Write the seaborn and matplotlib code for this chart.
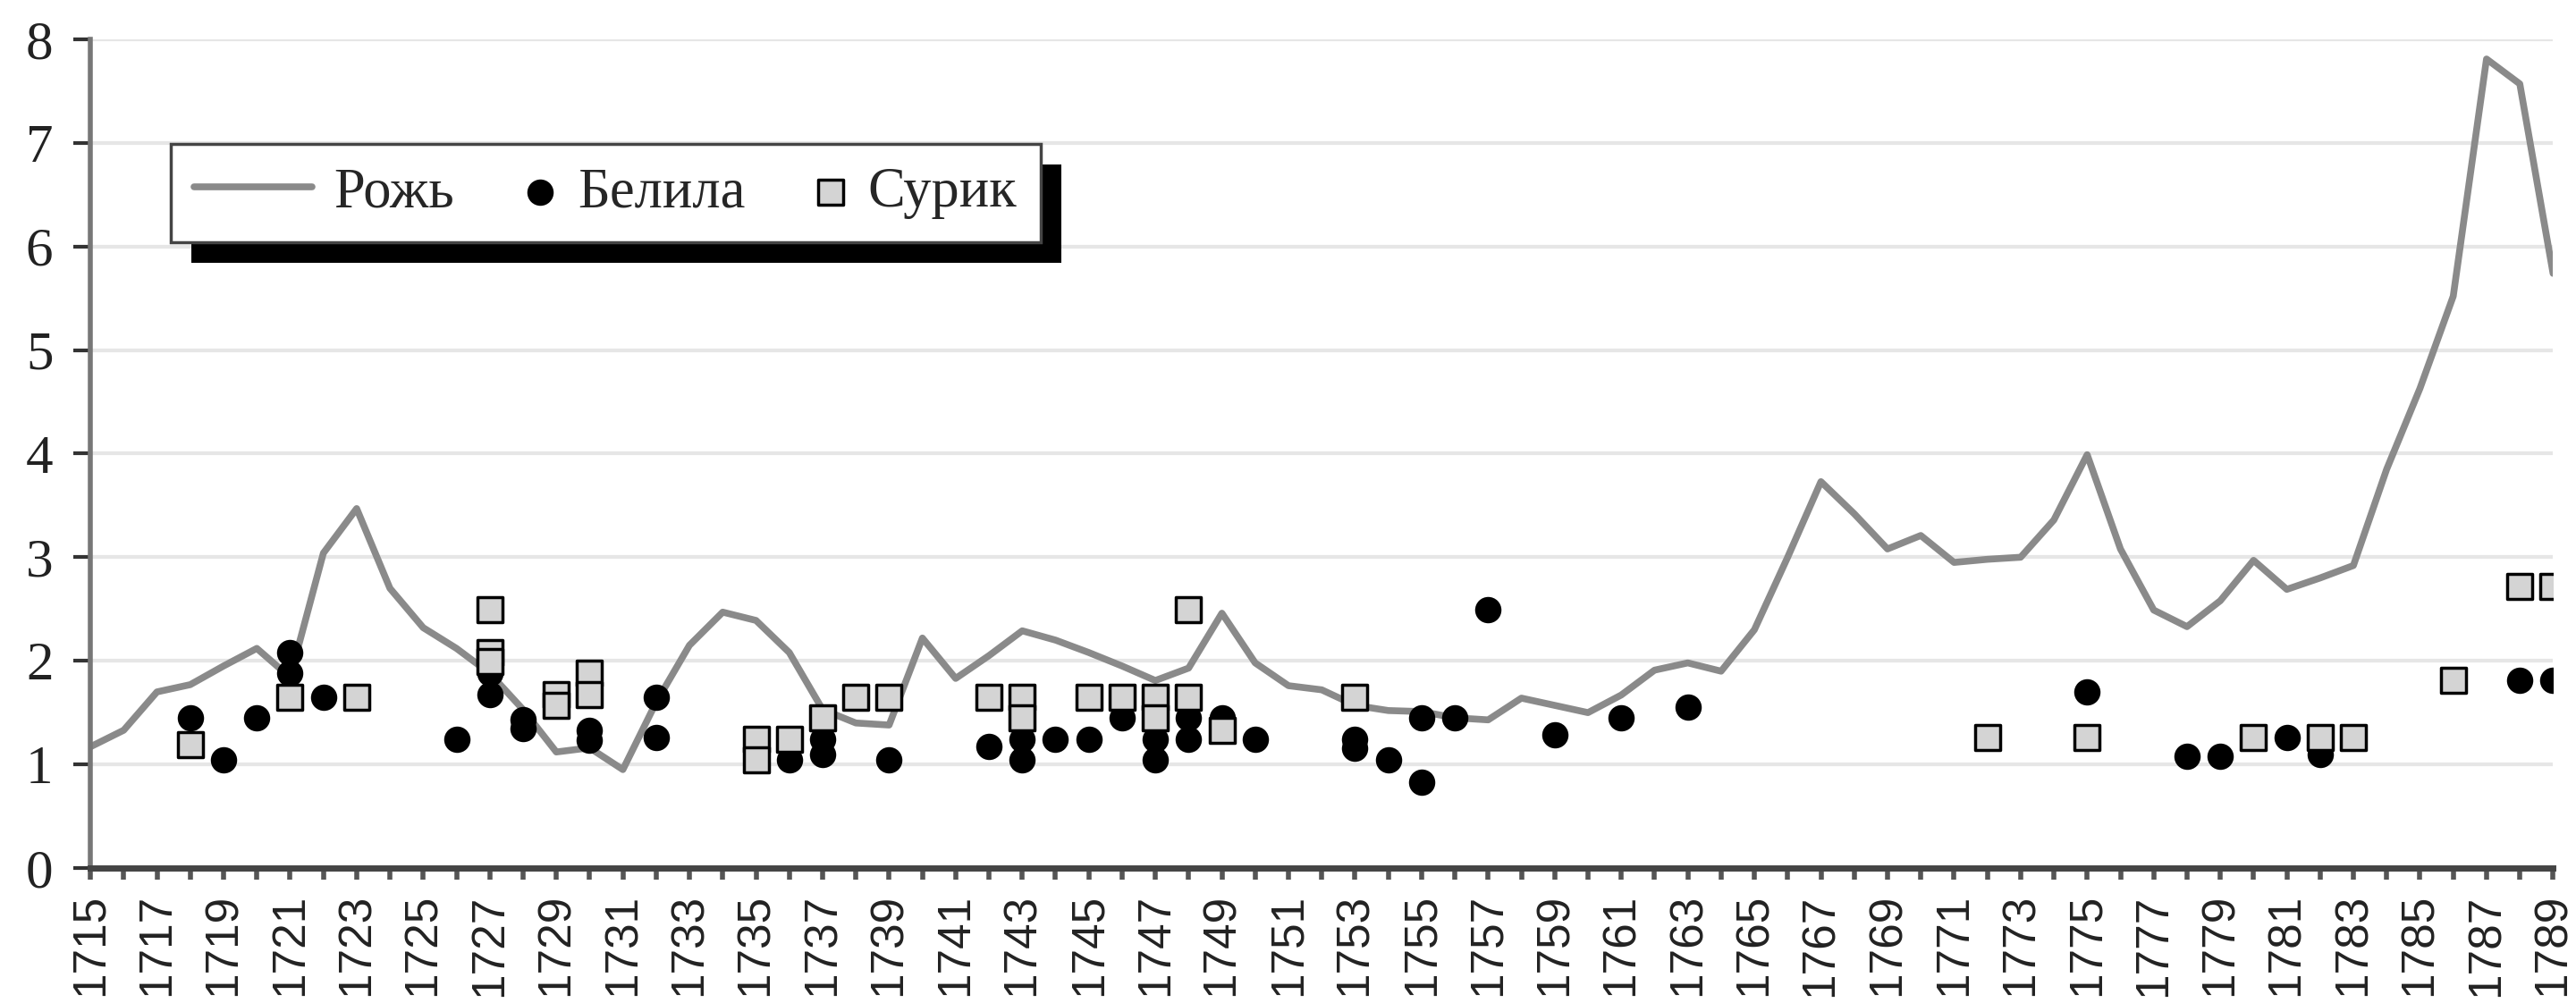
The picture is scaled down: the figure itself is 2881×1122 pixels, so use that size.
import matplotlib
matplotlib.use("Agg")
import matplotlib.pyplot as plt
import matplotlib.patheffects as pe
from matplotlib.legend_handler import HandlerLine2D
import seaborn as sns
import pandas as pd

# Цены: рожь (линия), белила и сурик (точки)
years = list(range(1715, 1790))
rye = [1.17, 1.33, 1.70, 1.77, 1.95, 2.12, 1.84, 3.04, 3.47, 2.70,
       2.32, 2.12, 1.88, 1.53, 1.12, 1.16, 0.95, 1.60, 2.15, 2.47,
       2.39, 2.08, 1.53, 1.40, 1.38, 2.22, 1.83, 2.05, 2.29, 2.20,
       2.08, 1.95, 1.81, 1.93, 2.46, 1.98, 1.76, 1.72, 1.57, 1.52,
       1.51, 1.45, 1.43, 1.64, 1.57, 1.50, 1.67, 1.91, 1.98, 1.90,
       2.30, 3.00, 3.73, 3.42, 3.08, 3.21, 2.95, 2.98, 3.00, 3.36,
       3.99, 3.08, 2.49, 2.33, 2.58, 2.97, 2.69, 2.80, 2.92, 3.85,
       4.63, 5.52, 7.81, 7.57, 5.74]

belila_years = [1718, 1719, 1720, 1721, 1721, 1722, 1726, 1727, 1727, 1728,
                1728, 1730, 1730, 1732, 1732, 1736, 1737, 1737, 1739, 1742,
                1743, 1743, 1744, 1745, 1746, 1747, 1747, 1748, 1748, 1749,
                1750, 1753, 1753, 1754, 1755, 1755, 1756, 1757, 1759, 1761,
                1763, 1775, 1778, 1779, 1781, 1782, 1788, 1789]
belila = [1.45, 1.04, 1.45, 2.08, 1.88, 1.65, 1.24, 1.67, 1.88, 1.43,
          1.35, 1.33, 1.23, 1.65, 1.26, 1.04, 1.24, 1.10, 1.04, 1.17,
          1.24, 1.04, 1.24, 1.24, 1.45, 1.24, 1.04, 1.45, 1.24, 1.45,
          1.24, 1.24, 1.16, 1.04, 1.45, 0.83, 1.45, 2.49, 1.29, 1.45,
          1.55, 1.70, 1.08, 1.08, 1.26, 1.10, 1.81, 1.81]

surik_years = [1718, 1721, 1723, 1727, 1727, 1727, 1729, 1729, 1730, 1730,
               1735, 1735, 1736, 1737, 1738, 1739, 1742, 1743, 1743, 1745,
               1746, 1747, 1747, 1748, 1748, 1749, 1753, 1772, 1775, 1780,
               1782, 1783, 1786, 1788, 1789]
surik = [1.19, 1.65, 1.65, 2.49, 2.08, 1.99, 1.67, 1.57, 1.88, 1.67,
         1.24, 1.04, 1.24, 1.45, 1.65, 1.65, 1.65, 1.65, 1.45, 1.65,
         1.65, 1.65, 1.45, 2.49, 1.65, 1.33, 1.65, 1.26, 1.26, 1.26,
         1.26, 1.26, 1.81, 2.72, 2.72]

df_rye = pd.DataFrame({"year": years, "price": rye})
df_bel = pd.DataFrame({"year": belila_years, "price": belila})
df_sur = pd.DataFrame({"year": surik_years, "price": surik})


class WideLineHandler(HandlerLine2D):
    # линия в легенде длиннее, чем место под маркеры
    def legend_artist(self, legend, orig_handle, fontsize, handlebox):
        handlebox.width = 2.1 * fontsize
        return super().legend_artist(legend, orig_handle, fontsize, handlebox)


sns.set_style("white")

fig = plt.figure(figsize=(28.81, 11.22), dpi=100)
ax = fig.add_axes([0.0351, 0.1346, 0.956, 0.8262])

# горизонтальная сетка
for v in range(1, 9):
    ax.axhline(v, color="#e6e6e6", linewidth=3, zorder=0)

sns.lineplot(data=df_rye, x="year", y="price", color="#8a8a8a", linewidth=5.5,
             ax=ax, label="Рожь", zorder=2)
sns.scatterplot(data=df_bel, x="year", y="price", marker="o", s=450,
                color="black", edgecolor="black", linewidth=0, ax=ax,
                label="Белила", zorder=3)
sns.scatterplot(data=df_sur, x="year", y="price", marker="s", s=400,
                color="#d4d4d4", edgecolor="black", linewidth=2.5, ax=ax,
                label="Сурик", zorder=4)

ax.set_xlim(1715, 1789)
ax.set_ylim(0, 8)
ax.set_xlabel("")
ax.set_ylabel("")

ax.set_xticks(years)
ax.set_xticklabels([str(y) if (y - 1715) % 2 == 0 else "" for y in years],
                   rotation=90, fontsize=37, family="Liberation Sans",
                   color="#222222")
ax.set_yticks(range(0, 9))
ax.set_yticklabels([str(v) for v in range(0, 9)], fontsize=44,
                   family="Liberation Serif", color="#222222")

ax.tick_params(axis="x", direction="out", length=9, width=4, color="#555555",
               pad=12, bottom=True)
ax.tick_params(axis="y", direction="out", length=14, width=3, color="#333333",
               pad=16, left=True)

for s in ["top", "right"]:
    ax.spines[s].set_visible(False)
ax.spines["left"].set_color("#777777")
ax.spines["left"].set_linewidth(4)
ax.spines["bottom"].set_color("#444444")
ax.spines["bottom"].set_linewidth(5)

handles, labels = ax.get_legend_handles_labels()
leg = ax.legend(handles, labels, loc="upper left",
                bbox_to_anchor=(0.0327, 0.874),
                borderaxespad=0, ncol=3, frameon=True, fancybox=False,
                prop={"family": "Liberation Serif", "size": 45},
                handlelength=0.55, handletextpad=0.4, columnspacing=1.25,
                markerscale=1.0, borderpad=0.42,
                handler_map={handles[0]: WideLineHandler()})
frame = leg.get_frame()
frame.set_edgecolor("#444444")
frame.set_linewidth(2.5)
frame.set_facecolor("white")
frame.set_alpha(1)
frame.set_path_effects([pe.SimplePatchShadow(offset=(16.5, -16.5),
                                             shadow_rgbFace="black", alpha=1.0),
                        pe.Normal()])

fig.savefig("out.png", dpi=100)
